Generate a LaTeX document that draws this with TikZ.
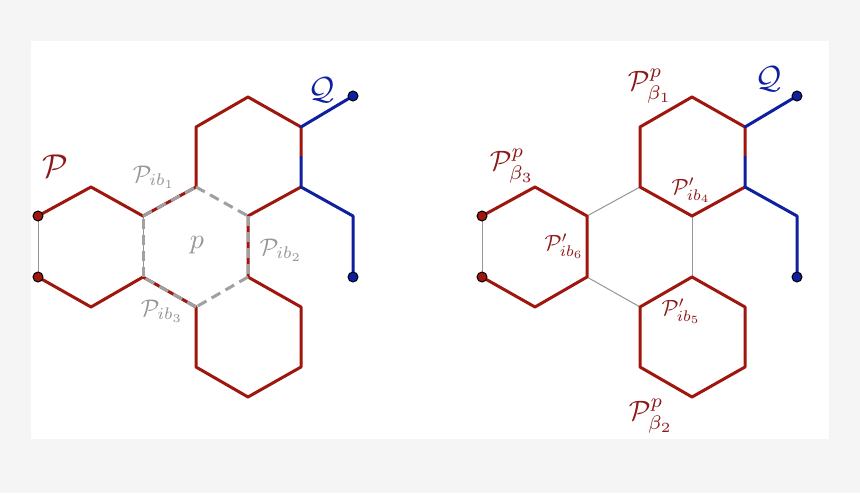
\documentclass[tikz,border=0pt]{standalone}
\definecolor{pred}{RGB}{158,22,12}
\definecolor{pblue}{RGB}{14,32,160}
\definecolor{thingray}{RGB}{150,150,150}
\definecolor{dashgray}{RGB}{160,160,160}
\definecolor{labgray}{RGB}{150,150,150}
\definecolor{labred}{RGB}{140,24,24}
\definecolor{bgpage}{RGB}{245,245,245}
\tikzset{
  redp/.style={draw=pred, line width=3pt, line join=round, line cap=round},
  bluep/.style={draw=pblue, line width=3pt, line join=round, line cap=round},
  thinedge/.style={draw=thingray, line width=1pt},
  dashedge/.style={draw=dashgray, line width=3pt, dash pattern=on 10pt off 6pt},
  reddot/.style={circle, draw=black, fill=pred, line width=1pt, minimum size=10pt, inner sep=0pt},
  bluedot/.style={circle, draw=black, fill=pblue, line width=1pt, minimum size=10pt, inner sep=0pt},
  lab/.style={inner sep=0pt},
}
\newcommand\scaledmath[2]{\scalebox{#1}{$#2$}}
\newcommand\hexpts[1]{%
  \coordinate (#1a1) at (38,216);
  \coordinate (#1a2) at (91,187);
  \coordinate (#1a3) at (143,216);
  \coordinate (#1a4) at (143,277);
  \coordinate (#1a5) at (91,307);
  \coordinate (#1a6) at (38,277);
  \coordinate (#1c1) at (196,187);
  \coordinate (#1c2) at (248,216);
  \coordinate (#1c3) at (248,277);
  \coordinate (#1c4) at (196,307);
  \coordinate (#1t1) at (196,127);
  \coordinate (#1t2) at (248,97);
  \coordinate (#1t3) at (301,127);
  \coordinate (#1t4) at (301,187);
  \coordinate (#1m) at (301,157);
  \coordinate (#1b1) at (301,307);
  \coordinate (#1b2) at (301,367);
  \coordinate (#1b3) at (248,397);
  \coordinate (#1b4) at (196,367);
  \coordinate (#1q1) at (353,96);
  \coordinate (#1q2) at (353,216);
  \coordinate (#1q3) at (353,277);
}
\begin{document}
\begin{tikzpicture}[x=1pt,y=-1pt]
\fill[bgpage] (0,0) rectangle (860,493);
\fill[white] (31,41) rectangle (829,439);
\useasboundingbox (0,0) rectangle (860,493);

% ---------------- left diagram ----------------
\hexpts{L}
\draw[thinedge] (La1) -- (La6);
\draw[thinedge] (La3) -- (La4);
\draw[redp] (La1) -- (La2) -- (La3) -- (Lc1) -- (Lt1) -- (Lt2) -- (Lt3) -- (Lm);
\draw[redp] (La6) -- (La5) -- (La4) -- (Lc4);
\draw[redp] (Lt4) -- (Lc2) -- (Lc3);
\draw[redp] (Lc3) -- (Lb1) -- (Lb2) -- (Lb3) -- (Lb4) -- (Lc4);
\draw[bluep] (Lt3) -- (Lq1);
\draw[bluep] (Lm) -- (Lt4) -- (Lq2) -- (Lq3);
\draw[dashedge] (La3) -- (Lc1);
\draw[dashedge] (Lc1) -- (Lc2);
\draw[dashedge] (Lc2) -- (Lc3);
\draw[dashedge] (Lc3) -- (Lc4);
\draw[dashedge] (Lc4) -- (La4);
\draw[dashedge] (La4) -- (La3);
\node[reddot] (Ld1) at (La1) {};
\node[reddot] (Ld2) at (La6) {};
\node[bluedot] (Ld3) at (Lq1) {};
\node[bluedot] (Ld4) at (Lq3) {};

% ---------------- right diagram ----------------
\begin{scope}[xshift=444pt]
\hexpts{R}
\draw[thinedge] (Ra1) -- (Ra6);
\draw[thinedge] (Ra3) -- (Rc1);
\draw[thinedge] (Rc2) -- (Rc3);
\draw[thinedge] (Rc4) -- (Ra4);
\draw[redp] (Ra1) -- (Ra2) -- (Ra3) -- (Ra4) -- (Ra5) -- (Ra6);
\draw[redp] (Rm) -- (Rt3) -- (Rt2) -- (Rt1) -- (Rc1) -- (Rc2) -- (Rt4);
\draw[redp] (Rc3) -- (Rb1) -- (Rb2) -- (Rb3) -- (Rb4) -- (Rc4) -- cycle;
\draw[bluep] (Rt3) -- (Rq1);
\draw[bluep] (Rm) -- (Rt4) -- (Rq2) -- (Rq3);
\node[reddot] (Rd1) at (Ra1) {};
\node[reddot] (Rd2) at (Ra6) {};
\node[bluedot] (Rd3) at (Rq1) {};
\node[bluedot] (Rd4) at (Rq3) {};
\end{scope}

% ---------------- labels ----------------
\node[lab, text=labred] (LP) at (55,166) {\scaledmath{3.3}{\mathcal{P}}};
\node[lab, text=pblue] (LQ) at (322,90) {\scaledmath{3.2}{\mathcal{Q}}};
\node[lab, text=labgray] (Lib1) at (154,177) {\scaledmath{2.4}{\mathcal{P}_{ib_1}}};
\node[lab, text=labgray] (Lp) at (197,245) {\scaledmath{2.8}{p}};
\node[lab, text=labgray] (Lib2) at (281,250) {\scaledmath{2.4}{\mathcal{P}_{ib_2}}};
\node[lab, text=labgray] (Lib3) at (162,311) {\scaledmath{2.4}{\mathcal{P}_{ib_3}}};

\node[lab, text=labred] (Rb3) at (512,166) {\scaledmath{2.8}{\mathcal{P}^{p}_{\beta_3}}};
\node[lab, text=labred] (Rb1) at (650,86) {\scaledmath{2.8}{\mathcal{P}^{p}_{\beta_1}}};
\node[lab, text=labred] (Rb2) at (651,416) {\scaledmath{2.8}{\mathcal{P}^{p}_{\beta_2}}};
\node[lab, text=pblue] (RQ) at (769,79) {\scaledmath{3.2}{\mathcal{Q}}};
\node[lab, text=labred] (Rib6) at (564,246) {\scaledmath{2.2}{\mathcal{P}'_{ib_6}}};
\node[lab, text=labred] (Rib4) at (691,190) {\scaledmath{2.2}{\mathcal{P}'_{ib_4}}};
\node[lab, text=labred] (Rib5) at (681,311) {\scaledmath{2.2}{\mathcal{P}'_{ib_5}}};
\end{tikzpicture}
\end{document}
